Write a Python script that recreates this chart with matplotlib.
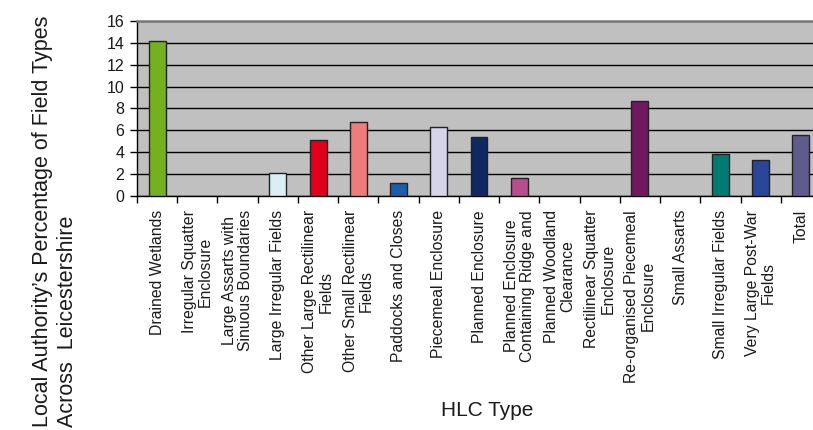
import matplotlib
matplotlib.use("Agg")
import matplotlib.pyplot as plt
import numpy as np

plt.rcParams["font.family"] = ["Liberation Sans", "DejaVu Sans"]

# HLC field types and the authority's share of each (%)
hlc_types = [
    "Drained Wetlands",
    "Irregular Squatter\nEnclosure",
    "Large Assarts with\nSinuous Boundaries",
    "Large Irregular Fields",
    "Other Large Rectilinear\nFields",
    "Other Small Rectilinear\nFields",
    "Paddocks and Closes",
    "Piecemeal Enclosure",
    "Planned Enclosure",
    "Planned Enclosure\nContaining Ridge and",
    "Planned Woodland\nClearance",
    "Rectilinear Squatter\nEnclosure",
    "Re-organised Piecemeal\nEnclosure",
    "Small Assarts",
    "Small Irregular Fields",
    "Very Large Post-War\nFields",
    "Total",
]
percent = [14.2, 0, 0, 2.1, 5.1, 6.8, 1.2, 6.3, 5.4, 1.6, 0, 0, 8.7, 0, 3.8, 3.3, 5.6]
bar_colors = [
    "#74b01f", "#999999", "#999999", "#daeef3", "#e0001b", "#ee7c7a",
    "#1e5ba8", "#d6d4e9", "#0f2863", "#b94b90", "#999999", "#999999",
    "#6f1a60", "#999999", "#007b73", "#2a4699", "#5f5b8d",
]
y_ticks = [0, 2, 4, 6, 8, 10, 12, 14, 16]

TEXT = "#1a1a1a"

fig = plt.figure(figsize=(8.13, 4.30), dpi=100)
ax = fig.add_axes([137 / 813, 234 / 430, 684 / 813, 175 / 430])
ax.set_facecolor("#c0c0c0")

x = np.arange(len(hlc_types))
# empty categories get no outline so nothing shows on the axis
edges = ["#222222" if v > 0 else "none" for v in percent]
ax.bar(x, percent, width=0.42, color=bar_colors, edgecolor=edges,
       linewidth=1.0, zorder=3)

ax.set_xlim(-0.5, len(hlc_types) - 0.5)
ax.set_ylim(0, 16)
ax.set_yticks(y_ticks)
ax.grid(axis="y", color="black", linewidth=1.0, zorder=1)

# category labels at the centres, tick marks on the boundaries
ax.set_xticks(x)
ax.set_xticklabels(hlc_types, rotation=90, va="top", ha="center",
                   multialignment="center", fontsize=11.3, color=TEXT,
                   linespacing=1.1)
ax.set_xticks(np.arange(len(hlc_types) + 1) - 0.5, minor=True)
ax.tick_params(axis="x", which="major", length=0, pad=10)
ax.tick_params(axis="x", which="minor", length=5, width=1, color="black")
ax.tick_params(axis="y", length=5, width=1, pad=4, labelsize=11.5,
               labelcolor=TEXT)

for side in ("left", "bottom"):
    ax.spines[side].set_color("black")
    ax.spines[side].set_linewidth(1.0)
ax.spines["top"].set_color("#7a7a7a")
ax.spines["top"].set_linewidth(1.8)
ax.spines["right"].set_visible(False)

fig.text(487 / 813, 20 / 430, "HLC Type", ha="center", va="center",
         fontsize=15, color=TEXT)
fig.text(55 / 813, 3 / 430,
         "Local Authority\u2019s Percentage of Field Types\nAcross  Leicestershire",
         rotation=90, ha="center", va="bottom", multialignment="left",
         fontsize=15.5, color=TEXT, linespacing=1.25)

fig.savefig("out.png", dpi=100, facecolor="white")
